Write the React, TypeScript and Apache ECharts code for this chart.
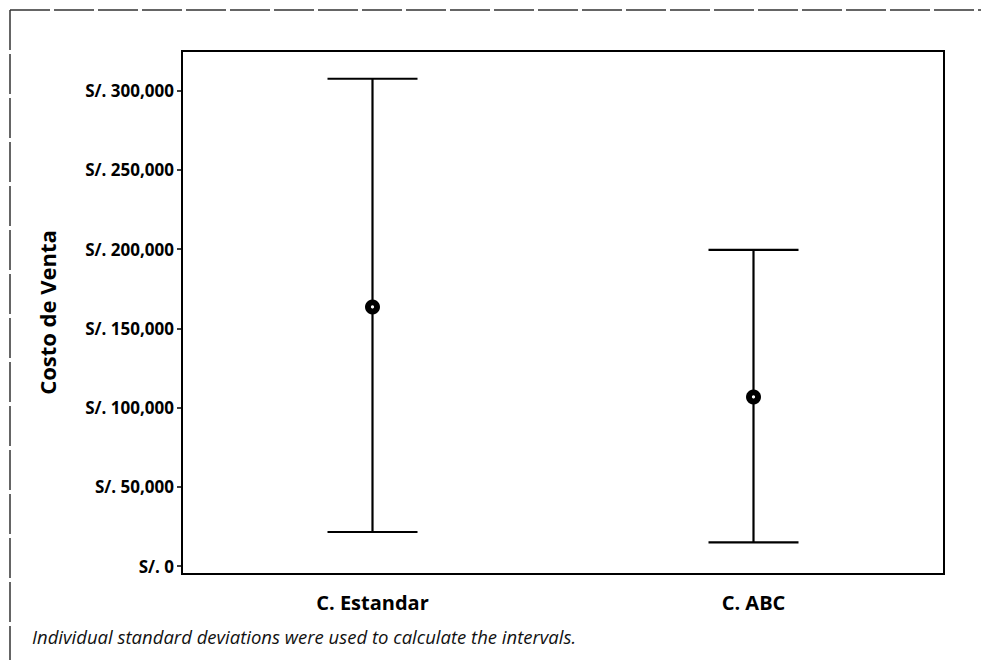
import React, { useEffect, useRef } from "react";
import * as echarts from "echarts";

const categories = ["C. Estandar", "C. ABC"];
const means = [163500, 106700];
const lowerBounds = [21500, 15000];
const upperBounds = [307500, 199500];
const yTicks = [0, 50000, 100000, 150000, 200000, 250000, 300000];
const yAxisTitle = "Costo de Venta";
const footNote = "Individual standard deviations were used to calculate the intervals.";

const FONT = "'Open Sans'";

function fmt(v: number): string {
  return "S/. " + v.toLocaleString("en-US");
}

export default function App() {
  const ref = useRef<HTMLDivElement>(null);
  useEffect(() => {
    if (!ref.current) return;
    const chart = echarts.init(ref.current, null, { renderer: "svg" });
    const data = categories.map((c, i) => [i, means[i], lowerBounds[i], upperBounds[i]]);
    chart.setOption({
      animation: false,
      backgroundColor: "#ffffff",
      grid: {
        left: 182,
        top: 51,
        right: 37,
        bottom: 86,
        show: true,
        borderColor: "#000",
        borderWidth: 2,
        backgroundColor: "transparent",
      },
      xAxis: {
        type: "category",
        data: categories,
        axisLine: { onZero: false, lineStyle: { color: "#000", width: 2 } },
        axisTick: { alignWithLabel: true, length: 4, lineStyle: { color: "#000", width: 1.5 } },
        axisLabel: {
          color: "#000",
          fontFamily: FONT,
          fontSize: 20,
          fontWeight: "bold",
          margin: 18,
        },
        splitLine: { show: false },
      },
      yAxis: {
        type: "value",
        min: -5000,
        max: 325000,
        name: yAxisTitle,
        nameLocation: "middle",
        nameRotate: 90,
        nameGap: 124,
        nameTextStyle: { color: "#000", fontFamily: FONT, fontSize: 22, fontWeight: "bold" },
        axisLine: { show: true, lineStyle: { color: "#000", width: 2 } },
        axisTick: {
          show: true,
          length: 5,
          customValues: yTicks,
          lineStyle: { color: "#000", width: 1.5 },
        },
        axisLabel: {
          customValues: yTicks,
          color: "#000",
          fontFamily: FONT,
          fontSize: 17,
          fontWeight: "bold",
          margin: 8,
          formatter: (v: number) => fmt(v),
        },
        splitLine: { show: false },
      },
      graphic: [
        {
          type: "line",
          shape: { x1: 10, y1: 10, x2: 981, y2: 10 },
          style: { stroke: "#333", lineWidth: 1.5, lineDash: [40, 4] },
        },
        {
          type: "line",
          shape: { x1: 10, y1: 10, x2: 10, y2: 660 },
          style: { stroke: "#333", lineWidth: 1.5, lineDash: [40, 4] },
        },
        {
          type: "text",
          left: 32,
          top: 627,
          style: {
            text: footNote,
            fill: "#111",
            font: `italic 18.5px ${FONT}`,
          },
        },
      ],
      series: [
        {
          type: "custom",
          data: data,
          renderItem: (params: any, api: any) => {
            const x = api.value(0);
            const m = api.coord([x, api.value(1)]);
            const lo = api.coord([x, api.value(2)]);
            const hi = api.coord([x, api.value(3)]);
            const half = 45;
            const st = { stroke: "#000", lineWidth: 2.2 };
            return {
              type: "group",
              children: [
                { type: "line", shape: { x1: lo[0], y1: lo[1], x2: hi[0], y2: hi[1] }, style: st },
                { type: "line", shape: { x1: hi[0] - half, y1: hi[1], x2: hi[0] + half, y2: hi[1] }, style: st },
                { type: "line", shape: { x1: lo[0] - half, y1: lo[1], x2: lo[0] + half, y2: lo[1] }, style: st },
                { type: "circle", shape: { cx: m[0], cy: m[1], r: 7.5 }, style: { fill: "#000" } },
                { type: "circle", shape: { cx: m[0], cy: m[1], r: 1.6 }, style: { fill: "#fff" } },
              ],
            };
          },
        },
      ],
    });
    return () => chart.dispose();
  }, []);
  return <div ref={ref} style={{ width: 981, height: 660, position: "absolute", left: 0, top: 0 }} />;
}
